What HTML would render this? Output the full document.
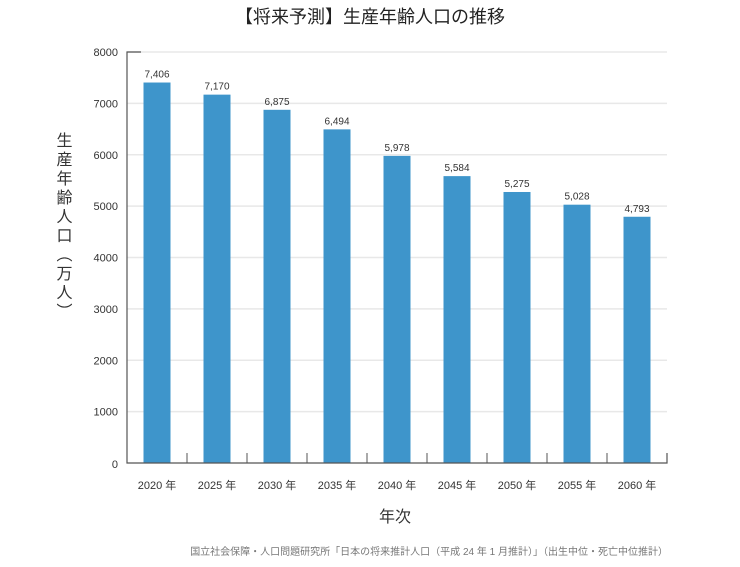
<!DOCTYPE html>
<html><head><meta charset="utf-8"><style>
body{margin:0;background:#fff;font-family:"Liberation Sans","Noto Sans CJK JP",sans-serif;}
svg text{font-family:"Liberation Sans","Noto Sans CJK JP",sans-serif;}
</style></head><body>
<svg id="c" width="740" height="562">
<text x="370" y="23" text-anchor="middle" font-size="18" fill="#222">【将来予測】生産年齢人口の推移</text>
<g id="g"></g>
<text x="395" y="522" text-anchor="middle" font-size="16" fill="#333">年次</text>
<text x="668" y="555" text-anchor="end" font-size="10" fill="#777">国立社会保障・人口問題研究所「日本の将来推計人口（平成 24 年 1 月推計）」（出生中位・死亡中位推計）</text>
</svg>
<script>
const categories=["2020 年","2025 年","2030 年","2035 年","2040 年","2045 年","2050 年","2055 年","2060 年"];
const values=[7406,7170,6875,6494,5978,5584,5275,5028,4793];
const valueLabels=["7,406","7,170","6,875","6,494","5,978","5,584","5,275","5,028","4,793"];
const yTicks=[0,1000,2000,3000,4000,5000,6000,7000,8000];
const NS="http://www.w3.org/2000/svg",g=document.getElementById('g');
const x0=127,x1=667,y0=463,y1=52,band=(x1-x0)/categories.length;
const y=v=>y0-(v/8000)*(y0-y1);
const xc=i=>x0+band*(i+0.5);
function mk(t,a,txt){const e=document.createElementNS(NS,t);for(const k in a)e.setAttribute(k,a[k]);if(txt!=null)e.textContent=txt;g.appendChild(e);return e;}
yTicks.forEach(v=>{
 if(v>0){const l=mk('line',{x1:x0,x2:x1,y1:y(v),y2:y(v),stroke:'#e8e8e8','stroke-width':1.5});
 
 }
 const t=mk('text',{x:118,y:y(v)+4+(v===0?1:0),'text-anchor':'end','font-size':11,fill:'#333'},v);
 
 
});
categories.forEach((c,i)=>{
 const r=mk('rect',{x:xc(i)-13.5,y:y(values[i]),width:27,height:y0-y(values[i]),fill:'#3e95cb'});
 
 
 const t=mk('text',{x:xc(i),y:y(values[i])-5,'text-anchor':'middle','font-size':10,fill:'#333'},valueLabels[i]);
 
 
 const xl=mk('text',{x:xc(i),y:489,'text-anchor':'middle','font-size':11,fill:'#333'},c);
 
 
 if(i>0){const tk=mk('line',{x1:x0+band*i,x2:x0+band*i,y1:y0,y2:y0-10,stroke:'#555','stroke-width':1});
 
 }
});
const ax=mk('path',{d:`M${x0+14},${y1}H${x0}V${y0}H${x1}V${y0-10}`,fill:'none',stroke:'#555','stroke-width':1.2});


const yt=mk('text',{x:62,y:132,'font-size':16,fill:'#333','writing-mode':'tb','letter-spacing':'3'},'生産年齢人口（万人）');


</script>
</body></html>
